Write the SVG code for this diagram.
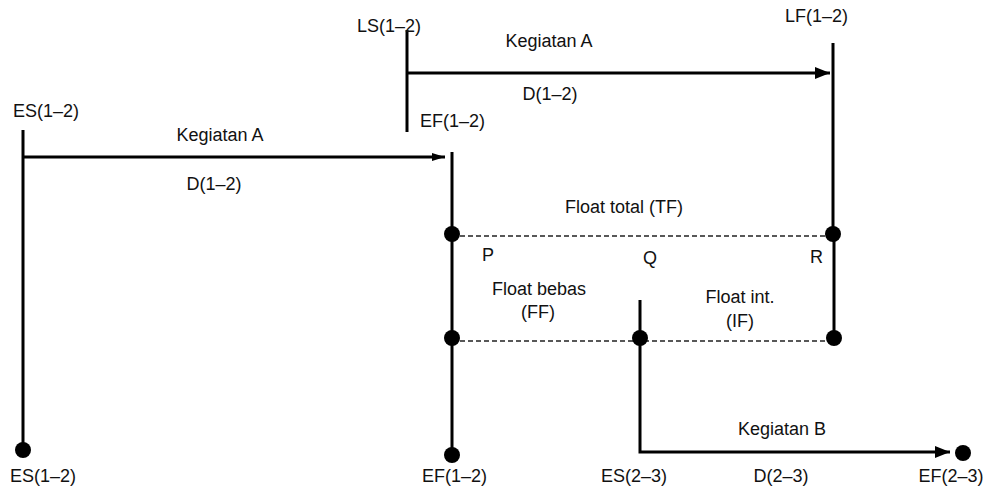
<svg xmlns="http://www.w3.org/2000/svg" width="991" height="490" viewBox="0 0 991 490">
<defs>
<style>
text{font-family:"Liberation Sans",Arial,sans-serif;font-size:18px;fill:#111;}
.m{text-anchor:middle}
.ln{stroke:#000;stroke-width:3;fill:none}
.dash{stroke:#222;stroke-width:1.6;stroke-dasharray:5 3;fill:none}
.dot{fill:#000}
</style>
<marker id="ah" viewBox="0 0 15 12" refX="15" refY="6" markerWidth="15" markerHeight="12" markerUnits="userSpaceOnUse" orient="auto">
<path d="M0,0 L15,6 L0,12 Z" fill="#000"/>
</marker>
<marker id="ahs" viewBox="0 0 13 8" refX="13" refY="4" markerWidth="13" markerHeight="8" markerUnits="userSpaceOnUse" orient="auto">
<path d="M0,0 L13,4 L0,8 Z" fill="#000"/>
</marker>
</defs>
<rect width="991" height="490" fill="#fff"/>
<g id="connectors">
<line class="ln" x1="23" y1="130" x2="23" y2="450"/>
<line class="ln" x1="23" y1="157" x2="445" y2="157" marker-end="url(#ahs)"/>
<line class="ln" x1="407" y1="30" x2="407" y2="132"/>
<line class="ln" x1="407" y1="73" x2="830" y2="73" marker-end="url(#ah)"/>
<line class="ln" x1="833" y1="43" x2="833" y2="233"/>
<line class="ln" x1="834" y1="233" x2="834" y2="337"/>
<line class="ln" x1="452" y1="152" x2="452" y2="455"/>
<line class="dash" x1="452" y1="236" x2="833" y2="236"/>
<line class="dash" x1="452" y1="341" x2="833" y2="341"/>
<path class="ln" d="M640,300 L640,452 L950,452" marker-end="url(#ah)"/>
</g>
<g id="es12-top"><text x="13" y="117">ES(1–2)</text></g>
<g id="kegiatanA1"><text class="m" x="220" y="141">Kegiatan A</text><text class="m" x="214" y="190">D(1–2)</text></g>
<g id="ls12"><text x="357" y="32">LS(1–2)</text></g>
<g id="kegiatanA2"><text class="m" x="549" y="47">Kegiatan A</text><text class="m" x="550" y="100">D(1–2)</text></g>
<g id="ef12-top"><text x="420" y="127">EF(1–2)</text></g>
<g id="lf12"><text x="785" y="22">LF(1–2)</text></g>
<g id="P"><circle class="dot" cx="452" cy="234" r="8"/><text x="482" y="261">P</text></g>
<g id="R"><circle class="dot" cx="833" cy="234" r="8"/><text x="810" y="263">R</text></g>
<g id="Q"><circle class="dot" cx="640" cy="338" r="8"/><text class="m" x="650" y="264">Q</text></g>
<g id="P2"><circle class="dot" cx="452" cy="338" r="8"/></g>
<g id="R2"><circle class="dot" cx="834" cy="338" r="8"/></g>
<g id="labels-float">
<text class="m" x="624" y="213">Float total (TF)</text>
<text class="m" x="539" y="295">Float bebas</text>
<text class="m" x="538" y="318">(FF)</text>
<text class="m" x="740" y="303">Float int.</text>
<text class="m" x="740" y="327">(IF)</text>
</g>
<g id="es12-bottom"><circle class="dot" cx="23" cy="450" r="8"/><text x="10" y="482">ES(1–2)</text></g>
<g id="ef12-bottom"><circle class="dot" cx="452" cy="455" r="8"/><text x="422" y="482">EF(1–2)</text></g>
<g id="es23"><text class="m" x="634" y="482">ES(2–3)</text></g>
<g id="kegiatanB"><text class="m" x="782" y="435">Kegiatan B</text><text class="m" x="781" y="482">D(2–3)</text></g>
<g id="ef23"><circle class="dot" cx="963" cy="453" r="8"/><text class="m" x="951" y="482">EF(2–3)</text></g>
</svg>
